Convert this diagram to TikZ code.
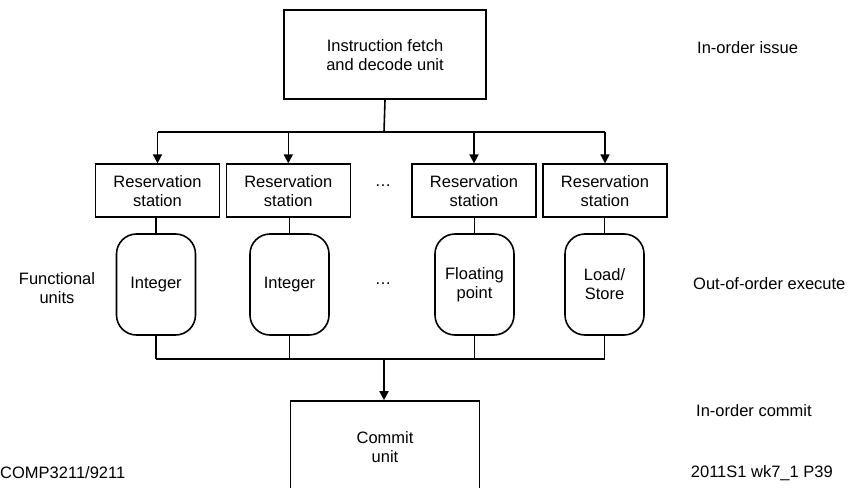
\documentclass[tikz,border=0pt]{standalone}
\usepackage{fontspec}
\setmainfont{Liberation Sans}
\usetikzlibrary{arrows.meta}
\begin{document}
\begin{tikzpicture}[x=1pt,y=-1pt,
  every node/.style={font=\fontsize{16.5}{19}\selectfont, align=center, inner sep=0pt},
  unitbox/.style={draw, line width=1.6pt, minimum width=#1},
  rsbox/.style={draw, line width=1.6pt, minimum width=124pt, minimum height=53pt},
  fubox/.style={draw, line width=1.6pt, rounded corners=20pt, minimum width=79pt, minimum height=101pt},
  wire/.style={line width=1.6pt},
  feed/.style={wire, -{Triangle[width=9pt,length=9pt]}},
  label/.style={anchor=west}]
\useasboundingbox (0,0) rectangle (848,487);
\clip (0,0) rectangle (848,487);

% fetch / decode
\node[unitbox=202pt, minimum height=89pt] (fetch) at (385,54.7)
  {Instruction fetch\\and decode unit};

% reservation stations
\node[rsbox] (rs1) at (157.5,190.7) {Reservation\\station};
\node[rsbox] (rs2) at (288.3,190.7) {Reservation\\station};
\node[rsbox] (rs3) at (474,190.7)   {Reservation\\station};
\node[rsbox] (rs4) at (605,190.7)   {Reservation\\station};
\node (dotsA) at (383,186) {\dots};

% functional units
\node[fubox] (fu1) at (156,284.5) {Integer};
\node[fubox] (fu2) at (289.5,284.5) {Integer};
\node[fubox] (fu3) at (474.5,284.5) {Floating\\point};
\node[fubox] (fu4) at (604.5,284.5) {Load/\\Store};
\node (dotsB) at (383,284) {\dots};

% commit unit (runs past the lower edge)
\node[unitbox=189pt, minimum height=120pt] (commit) at (385,461) {};
\node (committxt) at (385,447) {Commit\\unit};

% issue bus
\coordinate (busT) at (384,132);
\draw[wire] (fetch.south) -- (busT);
\draw[wire] (rs1.north |- busT) -- (rs4.north |- busT);
\foreach \r in {rs1,rs2,rs3,rs4}
  \draw[feed] (\r.north |- busT) -- (\r.north);

% station to unit
\foreach \r/\u in {rs1/fu1,rs2/fu2,rs3/fu3,rs4/fu4}
  \draw[wire] (\u.north |- \r.south) -- (\u.north);

% result bus
\coordinate (busB) at (384,359);
\foreach \u in {fu1,fu2,fu3,fu4}
  \draw[wire] (\u.south) -- (\u.south |- busB);
\draw[wire] (fu1.south |- busB) -- (fu4.south |- busB);
\draw[feed] (busB) -- (commit.north -| busB);

% side labels
\node (fulabel) at (57,288) {Functional\\units};
\node[label] (issue) at (697,48) {In-order issue};
\node[label] (ooo) at (693,284) {Out-of-order execute};
\node[label] (inorder) at (696,411) {In-order commit};
\node[anchor=west] (course) at (0,473) {COMP3211/9211};
\node[anchor=east] (page) at (833,473) {2011S1 wk7\_1 P39};
\end{tikzpicture}
\end{document}
